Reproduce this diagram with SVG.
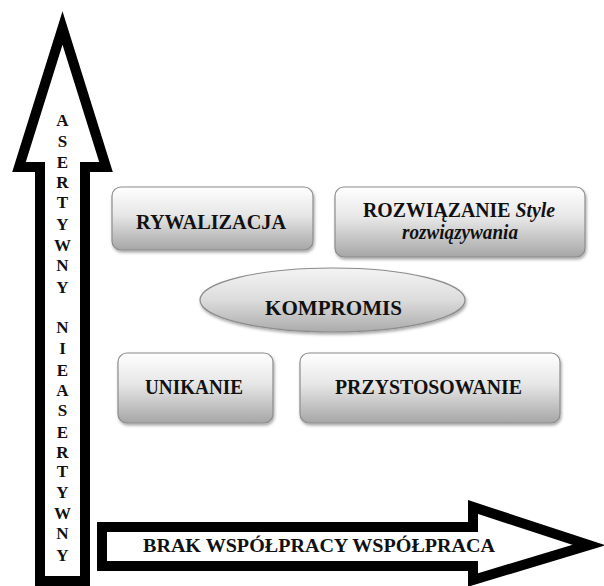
<svg xmlns="http://www.w3.org/2000/svg" width="604" height="586" viewBox="0 0 604 586">
<defs>
<linearGradient id="g" x1="0" y1="0" x2="0" y2="1">
<stop offset="0" stop-color="#ffffff"/>
<stop offset="0.45" stop-color="#e6e6e6"/>
<stop offset="1" stop-color="#a6a6a6"/>
</linearGradient>
<linearGradient id="ge" x1="0" y1="0" x2="0" y2="1">
<stop offset="0" stop-color="#f4f4f4"/>
<stop offset="0.5" stop-color="#dcdcdc"/>
<stop offset="1" stop-color="#ababab"/>
</linearGradient>
<filter id="sh" x="-10%" y="-10%" width="120%" height="130%">
<feDropShadow dx="1" dy="2" stdDeviation="1.5" flood-color="#000" flood-opacity="0.35"/>
</filter>
</defs>
<style>
.arrow{fill:#fff;stroke:#000;stroke-width:10;stroke-linejoin:miter;stroke-miterlimit:6}
.box{fill:url(#g);stroke:#8c8c8c;stroke-width:1.2;filter:url(#sh)}
.ell{fill:url(#ge);stroke:#8c8c8c;stroke-width:1.2;filter:url(#sh)}
text{font-family:'Liberation Serif','DejaVu Serif',serif;font-weight:bold;fill:#111;text-anchor:middle}
.t{font-size:20px}
.v{font-size:17px}
</style>
<rect width="604" height="586" fill="#fff"/>
<g id="connectors">
<g id="axis-vertical">
<polygon class="arrow" points="62.5,28 106,167 85,167 85,581 40,581 40,167 19,167"/>
<g class="v">
<text class="v" x="62.5" y="126">A</text>
<text class="v" x="62.5" y="147">S</text>
<text class="v" x="62.5" y="168">E</text>
<text class="v" x="62.5" y="188">R</text>
<text class="v" x="62.5" y="208">T</text>
<text class="v" x="62.5" y="230">Y</text>
<text class="v" x="62.5" y="251">W</text>
<text class="v" x="62.5" y="271">N</text>
<text class="v" x="62.5" y="293">Y</text>
<text class="v" x="62.5" y="333">N</text>
<text class="v" x="62.5" y="354">I</text>
<text class="v" x="62.5" y="376">E</text>
<text class="v" x="62.5" y="396">A</text>
<text class="v" x="62.5" y="416">S</text>
<text class="v" x="62.5" y="438">E</text>
<text class="v" x="62.5" y="458">R</text>
<text class="v" x="62.5" y="477">T</text>
<text class="v" x="62.5" y="498">Y</text>
<text class="v" x="62.5" y="519">W</text>
<text class="v" x="62.5" y="539">N</text>
<text class="v" x="62.5" y="561">Y</text>
</g>
</g>
<g id="axis-horizontal">
<polygon class="arrow" points="102,527 473,527 473,507 589,545 473,580 473,566 102,566"/>
<text class="t" x="319" y="552" style="font-size:19px" textLength="352" lengthAdjust="spacingAndGlyphs">BRAK WSPÓŁPRACY  WSPÓŁPRACA</text>
</g>
</g>
<g id="rywalizacja">
<rect class="box" x="112" y="187" width="201" height="63" rx="9"/>
<text class="t" x="211" y="229" textLength="150" lengthAdjust="spacingAndGlyphs">RYWALIZACJA</text>
</g>
<g id="rozwiazanie">
<rect class="box" x="335" y="187" width="250" height="70" rx="9"/>
<text class="t" x="459" y="217" textLength="192" lengthAdjust="spacingAndGlyphs">ROZWIĄZANIE <tspan font-style="italic">Style</tspan></text>
<text class="t" x="460" y="239" font-style="italic" textLength="116" lengthAdjust="spacingAndGlyphs">rozwiązywania</text>
</g>
<g id="kompromis">
<ellipse class="ell" cx="332.5" cy="300" rx="132.5" ry="32"/>
<text class="t" x="333.5" y="315" style="font-size:21px" textLength="137" lengthAdjust="spacingAndGlyphs">KOMPROMIS</text>
</g>
<g id="unikanie">
<rect class="box" x="118" y="353" width="155" height="70" rx="9"/>
<text class="t" x="194" y="394" textLength="98" lengthAdjust="spacingAndGlyphs">UNIKANIE</text>
</g>
<g id="przystosowanie">
<rect class="box" x="300" y="353" width="260" height="70" rx="9"/>
<text class="t" x="428.5" y="394" textLength="187" lengthAdjust="spacingAndGlyphs">PRZYSTOSOWANIE</text>
</g>
</svg>
